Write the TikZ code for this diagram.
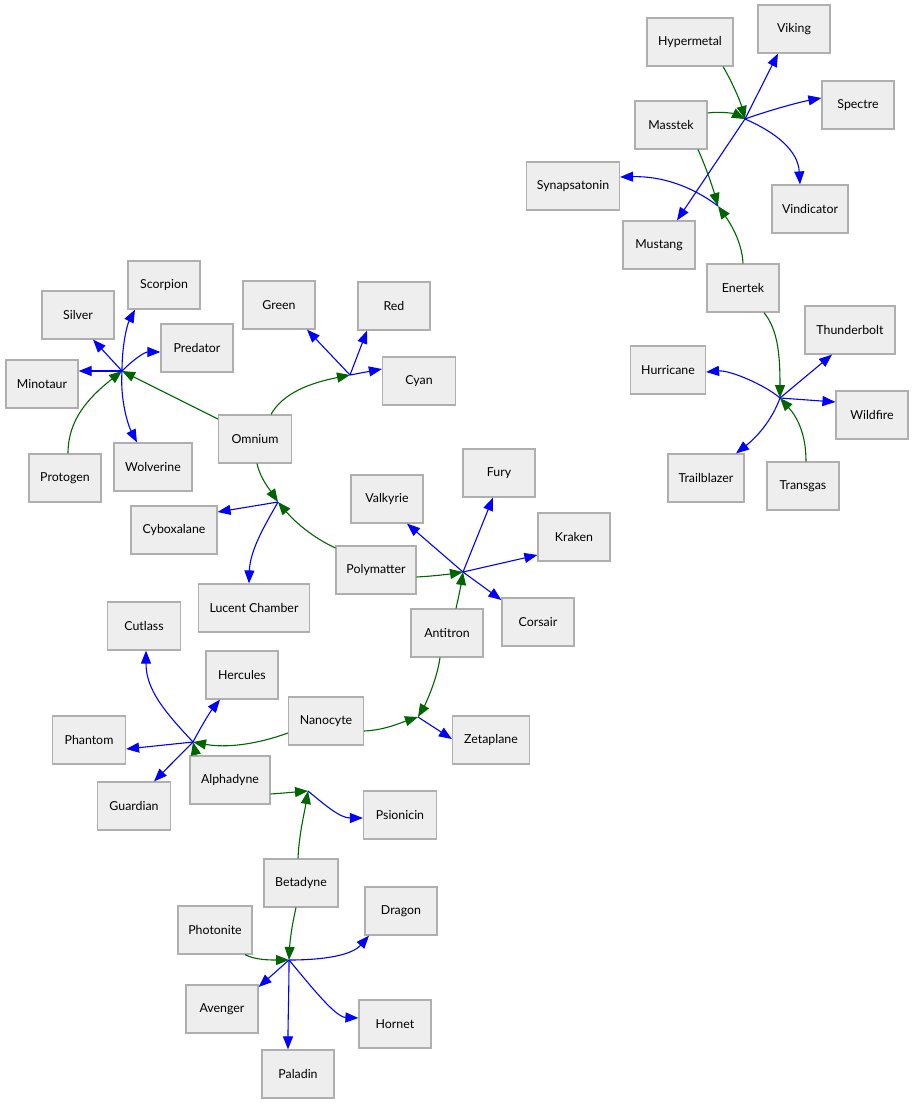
\documentclass[tikz,border=0pt]{standalone}
\usepackage{fontspec}
\setmainfont{Lato}
\usetikzlibrary{arrows.meta,calc}
\definecolor{boxfill}{HTML}{EEEEEE}
\definecolor{boxline}{HTML}{AFAFAF}
\definecolor{dgreen}{HTML}{006400}
\definecolor{dblue}{HTML}{0000FF}
\begin{document}
\begin{tikzpicture}[x=1bp,y=-1bp,
  box/.style={draw=boxline, fill=boxfill, line width=1.2bp, minimum width=72bp, minimum height=48bp, inner xsep=2bp, font=\fontsize{12.4}{14}\selectfont},
  gin/.style={draw=dgreen, line width=1.1bp, -{Triangle[length=13bp,width=10bp]}},
  bout/.style={draw=dblue, line width=1.1bp, -{Triangle[length=13bp,width=10bp]}}]
\useasboundingbox (0,0) rectangle (913,1104);
% nodes
\node[box,minimum width=86bp] (Hypermetal) at (690,42) {Hypermetal};
\node[box] (Viking) at (794,29) {Viking};
\node[box] (Spectre) at (858,105) {Spectre};
\node[box] (Masstek) at (671,125) {Masstek};
\node[box,minimum width=93bp] (Synapsatonin) at (573,186) {Synapsatonin};
\node[box,minimum width=76bp] (Vindicator) at (810,209) {Vindicator};
\node[box] (Mustang) at (659,245) {Mustang};
\node[box] (Enertek) at (743,288) {Enertek};
\node[box,minimum width=90bp] (Thunderbolt) at (850,330) {Thunderbolt};
\node[box,minimum width=75bp] (Hurricane) at (668,370) {Hurricane};
\node[box] (Wildfire) at (872,415) {Wildfire};
\node[box,minimum width=76bp] (Trailblazer) at (706,478) {Trailblazer};
\node[box] (Transgas) at (803,486) {Transgas};
\node[box] (Scorpion) at (164,285) {Scorpion};
\node[box] (Silver) at (78,315) {Silver};
\node[box] (Predator) at (197,348) {Predator};
\node[box] (Minotaur) at (42,384) {Minotaur};
\node[box] (Protogen) at (65,478) {Protogen};
\node[box,minimum width=78bp] (Wolverine) at (153,467) {Wolverine};
\node[box,minimum width=73bp] (Omnium) at (255,439) {Omnium};
\node[box] (Green) at (279,305) {Green};
\node[box] (Red) at (394,306) {Red};
\node[box,minimum width=73bp] (Cyan) at (419,381) {Cyan};
\node[box,minimum width=86bp] (Cyboxalane) at (174,530) {Cyboxalane};
\node[box,minimum width=111bp] (Lucent) at (254,608) {Lucent Chamber};
\node[box] (Valkyrie) at (387,499) {Valkyrie};
\node[box] (Fury) at (499,473) {Fury};
\node[box] (Kraken) at (574,537) {Kraken};
\node[box,minimum width=80bp] (Polymatter) at (376,570) {Polymatter};
\node[box] (Corsair) at (538,622) {Corsair};
\node[box] (Antitron) at (447,633) {Antitron};
\node[box,minimum width=73bp] (Cutlass) at (144,626) {Cutlass};
\node[box] (Hercules) at (242,675) {Hercules};
\node[box,minimum width=73bp] (Phantom) at (89,740) {Phantom};
\node[box,minimum width=75bp] (Nanocyte) at (326,721) {Nanocyte};
\node[box,minimum width=77bp] (Zetaplane) at (491,740) {Zetaplane};
\node[box,minimum width=73bp] (Guardian) at (134,806) {Guardian};
\node[box,minimum width=80bp] (Alphadyne) at (230,780) {Alphadyne};
\node[box,minimum width=73bp] (Psionicin) at (400,815) {Psionicin};
\node[box,minimum width=74bp] (Betadyne) at (301,883) {Betadyne};
\node[box,minimum width=74bp] (Photonite) at (215,930) {Photonite};
\node[box] (Dragon) at (401,911) {Dragon};
\node[box] (Avenger) at (222,1009) {Avenger};
\node[box] (Hornet) at (395,1024) {Hornet};
\node[box] (Paladin) at (298,1074) {Paladin};
% junctions
\coordinate (J1) at (745,119);
\coordinate (J2) at (718,206);
\coordinate (J3) at (780,398);
\coordinate (J4) at (122,371);
\coordinate (J5) at (350,375);
\coordinate (J6) at (278,502);
\coordinate (J7) at (463,572);
\coordinate (J8) at (193,742);
\coordinate (J9) at (418,717);
\coordinate (J10) at (308,791);
\coordinate (J11) at (289,960);
% J1
\draw[gin] ($(Hypermetal.south)+(33,0)$) .. controls (730,78) and (740,100) .. (J1);
\draw[gin] ($(Masstek.east)+(0,-12)$) .. controls (722,111) and (735,114) .. (J1);
\draw[bout] (J1) -- ($(Viking.south)+(-16,0)$);
\draw[bout] (J1) .. controls (770,110) and (800,102) .. ($(Spectre.west)+(0,-7)$);
\draw[bout] (J1) .. controls (775,132) and (798,150) .. ($(Vindicator.north)+(-10,0)$);
\draw[bout] (J1) -- ($(Mustang.north)+(18,0)$);
% J2
\draw[gin] ($(Masstek.south)+(27,0)$) .. controls (705,165) and (712,185) .. (J2);
\draw[gin] (Enertek.north) .. controls (742,240) and (728,220) .. (J2);
\draw[bout] (J2) .. controls (690,185) and (660,176) .. ($(Synapsatonin.east)+(0,-9)$);
% J3
\draw[gin] ($(Enertek.south)+(21,0)$) .. controls (778,330) and (780,355) .. (J3);
\draw[gin] ($(Transgas.north)+(3,0)$) .. controls (806,435) and (798,418) .. (J3);
\draw[bout] (J3) .. controls (765,385) and (730,370) .. ($(Hurricane.east)+(0,2)$);
\draw[bout] (J3) -- ($(Thunderbolt.south)+(-18,0)$);
\draw[bout] (J3) -- ($(Wildfire.west)+(0,-13)$);
\draw[bout] (J3) .. controls (772,420) and (757,437) .. ($(Trailblazer.north)+(30,0)$);
% J4
\draw[gin] ($(Protogen.north)+(3,0)$) .. controls (68,420) and (88,398) .. (J4);
\draw[gin] ($(Omnium.west)+(0,-20)$) -- (J4);
\draw[bout] (J4) -- ($(Minotaur.east)+(0,-13)$);
\draw[bout] (J4) -- ($(Silver.south)+(15,0)$);
\draw[bout] (J4) .. controls (122,345) and (127,325) .. ($(Scorpion.south)+(-29,0)$);
\draw[bout] (J4) .. controls (135,358) and (145,352) .. ($(Predator.west)+(0,4)$);
\draw[bout] (J4) .. controls (120,400) and (128,425) .. ($(Wolverine.north)+(-16,0)$);
% J5
\draw[gin] ($(Omnium.north)+(16,0)$) .. controls (283,393) and (310,383) .. (J5);
\draw[bout] (J5) -- ($(Green.south)+(28,0)$);
\draw[bout] (J5) -- ($(Red.south)+(-27,0)$);
\draw[bout] (J5) -- ($(Cyan.west)+(0,-12)$);
% J6
\draw[gin] ($(Omnium.south)+(2,0)$) .. controls (260,478) and (270,490) .. (J6);
\draw[gin] ($(Polymatter.west)+(0,-22)$) .. controls (312,537) and (295,522) .. (J6);
\draw[bout] (J6) -- ($(Cyboxalane.east)+(0,-18)$);
\draw[bout] (J6) .. controls (265,525) and (250,550) .. ($(Lucent.north)+(-5,0)$);
% J7
\draw[gin] ($(Polymatter.east)+(0,7)$) .. controls (435,576) and (450,574) .. (J7);
\draw[gin] ($(Antitron.north)+(9,0)$) .. controls (459,595) and (461,585) .. (J7);
\draw[bout] (J7) -- ($(Valkyrie.south)+(20,0)$);
\draw[bout] (J7) -- ($(Fury.south)+(-6,0)$);
\draw[bout] (J7) -- ($(Kraken.west)+(0,18)$);
\draw[bout] (J7) -- ($(Corsair.west)+(0,-22)$);
% J8
\draw[gin] ($(Nanocyte.west)+(0,12)$) .. controls (255,745) and (225,748) .. (J8);
\draw[gin] ($(Alphadyne.north)+(-34,0)$) -- (J8);
\draw[bout] (J8) .. controls (165,712) and (146,690) .. ($(Cutlass.south)+(2,0)$);
\draw[bout] (J8) .. controls (202,725) and (210,712) .. ($(Hercules.south)+(-22,0)$);
\draw[bout] (J8) -- ($(Phantom.east)+(0,9)$);
\draw[bout] (J8) -- ($(Guardian.north)+(20,0)$);
% J9
\draw[gin] ($(Nanocyte.east)+(0,10)$) .. controls (385,730) and (400,723) .. (J9);
\draw[gin] ($(Antitron.south)+(-7,0)$) .. controls (437,680) and (425,705) .. (J9);
\draw[bout] (J9) -- ($(Zetaplane.west)+(0,-1)$);
% J10
\draw[gin] ($(Alphadyne.east)+(0,14)$) .. controls (285,793) and (295,792) .. (J10);
\draw[gin] ($(Betadyne.north)+(-3,0)$) .. controls (299,835) and (304,815) .. (J10);
\draw[bout] (J10) .. controls (325,805) and (340,818) .. ($(Psionicin.west)+(0,3)$);
% J11
\draw[gin] ($(Betadyne.south)+(-5,0)$) .. controls (292,925) and (290,940) .. (J11);
\draw[gin] ($(Photonite.south)+(30,0)$) .. controls (255,960) and (270,960) .. (J11);
\draw[bout] (J11) .. controls (325,960) and (352,955) .. ($(Dragon.south)+(-32,0)$);
\draw[bout] (J11) -- ($(Avenger.east)+(0,-22)$);
\draw[bout] (J11) .. controls (289,990) and (288,1020) .. ($(Paladin.north)+(-10,0)$);
\draw[bout] (J11) .. controls (310,985) and (335,1017) .. ($(Hornet.west)+(0,-6)$);
\end{tikzpicture}
\end{document}
